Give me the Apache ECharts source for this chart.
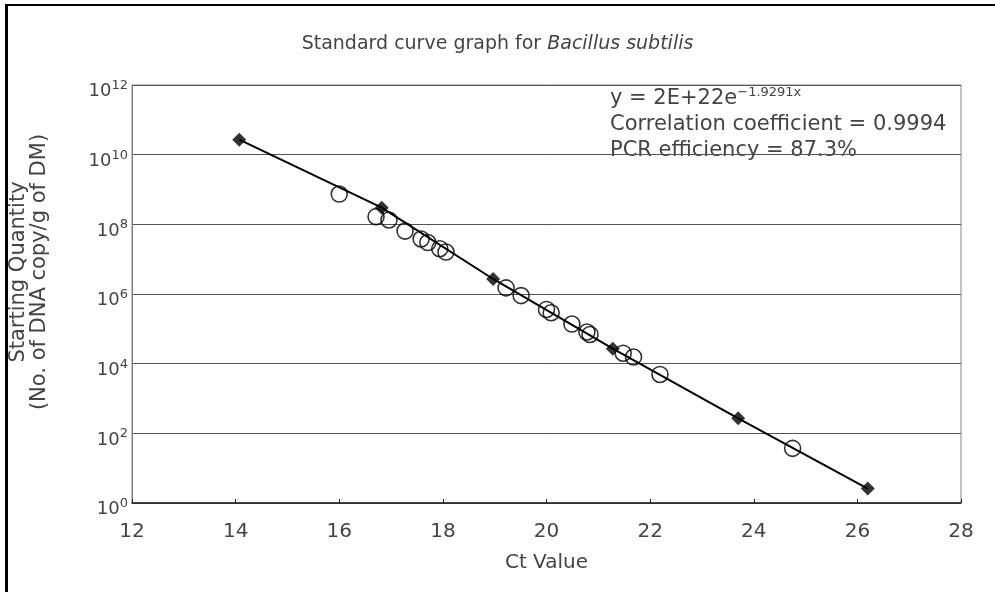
<!DOCTYPE html>
<html>
<head>
<meta charset="utf-8">
<script src="https://cdn.jsdelivr.net/npm/echarts@6/dist/echarts.min.js"></script>
<style>
  html, body { margin: 0; padding: 0; background: #fff; }
  #chart { width: 995px; height: 592px; }
</style>
</head>
<body>
<div id="chart"></div>
<script>
// standards (filled diamonds)
const stdCt = [14.07, 16.82, 18.97, 21.28, 23.70, 26.20];
const stdQty = [2.7e10, 3.0e8, 2.7e6, 2.7e4, 2.7e2, 2.6];

// samples (open circles)
const smpCt = [16.00, 16.71, 16.96, 17.27, 17.58, 17.71, 17.94, 18.06, 19.22, 19.51,
               20.00, 20.09, 20.49, 20.78, 20.84, 21.48, 21.68, 22.19, 24.75];
const smpQty = [7.4e8, 1.66e8, 1.33e8, 6.4e7, 3.8e7, 3.0e7, 2.0e7, 1.6e7, 1.5e6, 9.0e5,
                3.6e5, 2.9e5, 1.37e5, 8.1e4, 6.9e4, 2.0e4, 1.55e4, 4.9e3, 37];

const xTicks = [12, 14, 16, 18, 20, 22, 24, 26, 28];

const font = '"DejaVu Sans", Verdana, sans-serif';
const txt = '#444';

const chart = echarts.init(document.getElementById('chart'));

const std = stdCt.map((x, i) => [x, stdQty[i]]);
const smp = smpCt.map((x, i) => [x, smpQty[i]]);

chart.setOption({
  animation: false,
  backgroundColor: '#fff',
  textStyle: { fontFamily: font },
  title: {
    text: 'Standard curve graph for {i|Bacillus subtilis}',
    left: 'center',
    top: 30,
    textStyle: {
      fontFamily: font, fontSize: 19, fontWeight: 'normal', color: txt,
      rich: { i: { fontFamily: font, fontSize: 19, fontStyle: 'italic', color: txt } }
    }
  },
  grid: {
    left: 132, right: 34, top: 85, bottom: 89,
    show: true, borderColor: '#888', borderWidth: 1
  },
  xAxis: {
    type: 'value',
    min: xTicks[0], max: xTicks[xTicks.length - 1], interval: 2,
    name: 'Ct Value', nameLocation: 'middle', nameGap: 50,
    nameTextStyle: { fontFamily: font, fontSize: 20, color: txt },
    axisLine: { lineStyle: { color: '#222', width: 1.5 } },
    axisTick: { inside: true, length: 4, lineStyle: { color: '#222' } },
    axisLabel: { fontFamily: font, fontSize: 20, color: txt, margin: 19 },
    splitLine: { show: false }
  },
  yAxis: {
    type: 'log', logBase: 10,
    min: 1, max: 1e12, interval: 2,
    name: 'Starting Quantity\n(No. of DNA copy/g of DM)',
    nameLocation: 'middle', nameGap: 82, nameRotate: 90,
    nameTextStyle: { fontFamily: font, fontSize: 21, color: txt, lineHeight: 21, padding: [0, 0, 0, 44] },
    axisLine: { show: true, lineStyle: { color: '#777' } },
    axisTick: { show: false },
    axisLabel: {
      fontFamily: font, fontSize: 18, color: txt, margin: 4, padding: [13, 0, 0, 0],
      formatter: v => '10{s|' + Math.round(Math.log10(v)) + '}',
      rich: { s: { fontFamily: font, fontSize: 13, color: txt, verticalAlign: 'top', padding: [0, 0, 12, 0] } }
    },
    splitLine: { show: true, lineStyle: { color: '#555', width: 1 } }
  },
  series: [
    {
      type: 'line', data: std, symbol: 'none',
      lineStyle: { color: '#000', width: 2 }, z: 2
    },
    {
      type: 'scatter', data: smp, symbol: 'circle', symbolSize: 16,
      itemStyle: { color: 'rgba(0,0,0,0)', borderColor: '#000', borderWidth: 1.6 }, z: 3
    },
    {
      type: 'scatter', data: std, symbol: 'diamond', symbolSize: 14,
      itemStyle: { color: '#000' }, z: 4
    }
  ],
  graphic: [
    { type: 'line', shape: { x1: 6.5, y1: 4, x2: 6.5, y2: 592 }, style: { stroke: '#000', lineWidth: 3 } },
    { type: 'line', shape: { x1: 5, y1: 5, x2: 995, y2: 5 }, style: { stroke: '#000', lineWidth: 2 } },
    {
      type: 'text', left: 610, top: 86,
      style: {
        text: '{a|y = 2E+22e}{s|−1.9291x}\n{a|Correlation coefficient = 0.9994}\n{a|PCR efficiency = 87.3%}',
        fontFamily: font, fontSize: 21, fill: txt, lineHeight: 26,
        rich: {
          a: { fontFamily: font, fontSize: 21, fill: txt, lineHeight: 26 },
          s: { fontFamily: font, fontSize: 13, fill: txt, lineHeight: 26, verticalAlign: 'top', padding: [0, 0, 14, 0] }
        }
      }
    }
  ]
});
</script>
</body>
</html>
